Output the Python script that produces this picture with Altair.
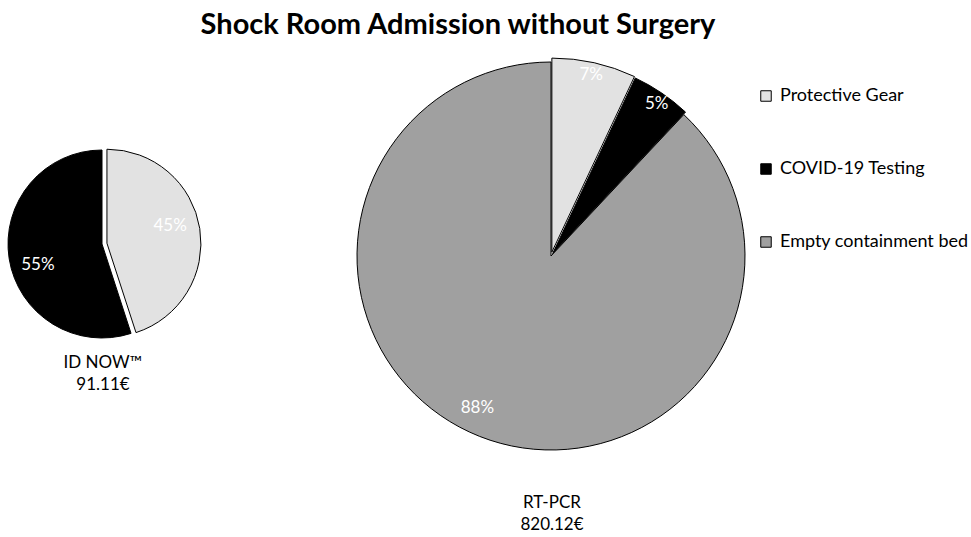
import math
import altair as alt
import pandas as pd

# ---- data ----
categories = ["Protective Gear", "COVID-19 Testing", "Empty containment bed"]
id_now_share = [45, 55, 0]
rt_pcr_share = [7, 5, 88]
pie_names = ["ID NOW™", "RT-PCR"]
pie_costs = ["91.11€", "820.12€"]
title_text = "Shock Room Admission without Surgery"

# ---- style ----
FONT = "Lato"
colors = ["#e2e2e2", "#000000", "#a0a0a0"]

color_scale = alt.Scale(domain=categories, range=colors)
theta_scale = alt.Scale(domain=[0, 100], range=[0, 2 * math.pi])
legend = alt.Legend(
    title=None, orient="none", legendX=757, legendY=87,
    symbolType="square", symbolSize=110, symbolStrokeColor="black",
    symbolStrokeWidth=1, labelFont=FONT, labelFontSize=18, labelColor="black",
    rowPadding=55, labelOffset=5, labelLimit=400,
)

pies = [
    dict(values=id_now_share, name=pie_names[0], cost=pie_costs[0],
         cx=102, cy=244, r=94, explode=[5, 0, 0], label_r=[68, 68, 68],
         nudge=[(-4, -7), (3, 10), (0, 0)], cap_y=363),
    dict(values=rt_pcr_share, name=pie_names[1], cost=pie_costs[1],
         cx=551, cy=256, r=194, explode=[4, 3, 0], label_r=[185, 185, 170],
         nudge=[(-1, 3), (0, 3), (-11, -6)], cap_y=503),
]

layers = []
for p in pies:
    df = pd.DataFrame({"category": categories, "share": p["values"], "order": [0, 1, 2]})
    base = (
        alt.Chart(df)
        .transform_window(end="sum(share)", sort=[alt.SortField("order")], frame=[None, 0])
        .transform_calculate(start="datum.end - datum.share")
        .transform_calculate(mid="datum.end - datum.share / 2")
        .transform_calculate(label="datum.share + '%'")
    )
    cum = 0
    for i, c in enumerate(categories):
        v = p["values"][i]
        if v <= 0:
            continue
        a = (cum + v / 2) / 100 * 2 * math.pi
        cum += v
        dx = p["explode"][i] * math.sin(a)
        dy = -p["explode"][i] * math.cos(a)
        sel = base.transform_filter(alt.datum.category == c)
        layers.append(
            sel.mark_arc(outerRadius=p["r"], stroke="black", strokeWidth=1).encode(
                theta=alt.Theta("start:Q", scale=theta_scale),
                theta2="end:Q",
                color=alt.Color("category:N", scale=color_scale, legend=legend),
                x=alt.value(p["cx"] + dx),
                y=alt.value(p["cy"] + dy),
            )
        )
        ndx, ndy = p["nudge"][i]
        layers.append(
            sel.mark_text(radius=p["label_r"][i], font=FONT, fontSize=17, color="white",
                          dx=ndx, dy=ndy).encode(
                theta=alt.Theta("mid:Q", scale=theta_scale),
                text="label:N",
                x=alt.value(p["cx"] + dx),
                y=alt.value(p["cy"] + dy),
            )
        )
    cap = pd.DataFrame({"t": [p["name"] + "\n" + p["cost"]]})
    layers.append(
        alt.Chart(cap).mark_text(font=FONT, fontSize=17, color="black", lineBreak="\n",
                                 lineHeight=21.5, baseline="middle").encode(
            text="t:N", x=alt.value(p["cx"] + 1), y=alt.value(p["cap_y"])
        )
    )

title_df = pd.DataFrame({"t": [title_text]})
layers.append(
    alt.Chart(title_df).mark_text(font=FONT, fontSize=29, fontWeight="bold", color="black",
                                  baseline="alphabetic").encode(
        text="t:N", x=alt.value(458), y=alt.value(34)
    )
)

chart = (
    alt.layer(*layers)
    .properties(width=971, height=537, padding=0, autosize="none", background="white")
    .configure_view(stroke=None)
)
chart.save("out.html", embed_options={"renderer": "svg", "actions": False})
